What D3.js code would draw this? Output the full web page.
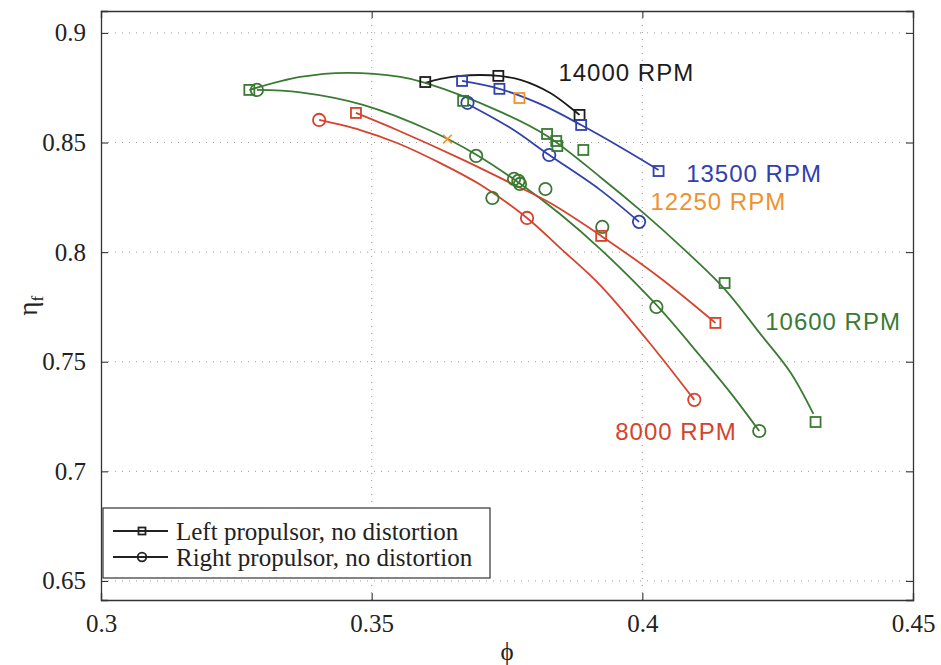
<!DOCTYPE html>
<html>
<head>
<meta charset="utf-8">
<script src="https://cdn.jsdelivr.net/npm/d3@7"></script>
<style>
    body { margin: 0; background: #fff; }
    #chart { width: 941px; height: 665px; }
</style>
</head>
<body>
<div id="chart"></div>
<script>

// axis ticks
const phiTicks = [0.3, 0.35, 0.4, 0.45];
const etaTicks = [0.65, 0.7, 0.75, 0.8, 0.85, 0.9];

// measured points, [phi, eta_f]
const left14000 = [[0.3599, 0.8776], [0.3734, 0.8804], [0.3884, 0.8626]];
const left13500 = [[0.3667, 0.8781], [0.3736, 0.8745], [0.3887, 0.8580], [0.4030, 0.8370]];
const right13500 = [[0.3677, 0.8681], [0.3828, 0.8443], [0.3994, 0.8138]];
const left12250 = [[0.3773, 0.8703]];
const cross12250 = [[0.3640, 0.8516]];
const left10600 = [[0.3274, 0.8740], [0.3669, 0.8690], [0.3824, 0.8539], [0.3841, 0.8507],
    [0.3843, 0.8484], [0.3891, 0.8466], [0.4152, 0.7859], [0.4320, 0.7225]];
const right10600 = [[0.3288, 0.8740], [0.3693, 0.8439], [0.3723, 0.8247], [0.3763, 0.8334],
    [0.3771, 0.8325], [0.3774, 0.8311], [0.3821, 0.8288], [0.3926, 0.8115],
    [0.4026, 0.7750], [0.4216, 0.7184]];
const left8000 = [[0.3471, 0.8635], [0.3924, 0.8074], [0.4135, 0.7677]];
const right8000 = [[0.3403, 0.8603], [0.3787, 0.8156], [0.4096, 0.7326]];

// fitted curves
const fitLeft14000 = [[0.3599, 0.8772], [0.3627, 0.8790], [0.3664, 0.8804], [0.3701, 0.8808],
    [0.3734, 0.8804], [0.3775, 0.8786], [0.3830, 0.8726], [0.3884, 0.8626]];
const fitLeft13500 = [[0.3667, 0.8781], [0.3736, 0.8745], [0.3811, 0.8676], [0.3887, 0.8580],
    [0.3959, 0.8480], [0.4030, 0.8375]];
const fitRight13500 = [[0.3677, 0.8676], [0.3756, 0.8567], [0.3828, 0.8443], [0.3922, 0.8284],
    [0.3994, 0.8138]];
const fitLeft10600 = [[0.3274, 0.8740], [0.3368, 0.8799], [0.3455, 0.8818], [0.3553, 0.8799],
    [0.3599, 0.8772], [0.3738, 0.8640], [0.3824, 0.8530], [0.3922, 0.8343], [0.4002, 0.8179],
    [0.4076, 0.8015], [0.4150, 0.7837], [0.4218, 0.7627], [0.4274, 0.7450], [0.4316, 0.7262]];
const fitRight10600 = [[0.3288, 0.8740], [0.3368, 0.8729], [0.3484, 0.8672], [0.3608, 0.8555],
    [0.3691, 0.8448], [0.3775, 0.8311], [0.3848, 0.8174], [0.3922, 0.8015], [0.4026, 0.7759],
    [0.4107, 0.7526], [0.4163, 0.7358], [0.4216, 0.7184]];
const fitLeft8000 = [[0.3471, 0.8635], [0.3547, 0.8557], [0.3669, 0.8421], [0.3756, 0.8316],
    [0.3830, 0.8224], [0.3924, 0.8074], [0.4033, 0.7882], [0.4135, 0.7677]];
const fitRight8000 = [[0.3403, 0.8603], [0.3479, 0.8557], [0.3547, 0.8498], [0.3627, 0.8406],
    [0.3701, 0.8307], [0.3787, 0.8156], [0.3848, 0.8019], [0.3922, 0.7850], [0.4009, 0.7599],
    [0.4096, 0.7326]];

// speed labels and where they sit
const rpmNames = ["14000 RPM", "13500 RPM", "12250 RPM", "10600 RPM", "8000 RPM"];
const rpmLabelPos = [[0.3845, 0.8781], [0.4081, 0.8320], [0.4015, 0.8190], [0.4227, 0.7645], [0.3950, 0.7143]];
const rpmColors = ["#1c1c1c", "#3041ad", "#f0912f", "#3b7a33", "#d5432d"];

const legendNames = ["Left propulsor, no distortion", "Right propulsor, no distortion"];

class EfficiencyVis {

    constructor(parentElement) {
        this.parentElement = parentElement;
        this.initVis();
    }

    initVis() {
        let vis = this;

        vis.margin = {top: 11, right: 28, bottom: 65, left: 101};
        vis.width = 941 - vis.margin.left - vis.margin.right;
        vis.height = 665 - vis.margin.top - vis.margin.bottom;

        vis.svg = d3.select("#" + vis.parentElement)
            .append("svg")
            .attr("width", 941)
            .attr("height", 665)
            .append("g")
            .attr("transform", "translate(" + vis.margin.left + "," + vis.margin.top + ")");

        vis.x = d3.scaleLinear().domain([0.3, 0.45]).range([0, vis.width]);
        vis.y = d3.scaleLinear().domain([0.6413, 0.91]).range([vis.height, 0]);

        vis.series = [
            {fit: fitLeft14000, pts: left14000, marker: "square", color: rpmColors[0]},
            {fit: fitLeft13500, pts: left13500, marker: "square", color: rpmColors[1]},
            {fit: fitRight13500, pts: right13500, marker: "circle", color: rpmColors[1]},
            {fit: null, pts: left12250, marker: "square", color: rpmColors[2]},
            {fit: null, pts: cross12250, marker: "cross", color: rpmColors[2]},
            {fit: fitLeft10600, pts: left10600, marker: "square", color: rpmColors[3]},
            {fit: fitRight10600, pts: right10600, marker: "circle", color: rpmColors[3]},
            {fit: fitLeft8000, pts: left8000, marker: "square", color: rpmColors[4]},
            {fit: fitRight8000, pts: right8000, marker: "circle", color: rpmColors[4]}
        ];

        vis.drawGrid();
        vis.drawSeries();
        vis.drawAxes();
        vis.drawLegend();
    }

    drawGrid() {
        let vis = this;

        vis.svg.selectAll(".vgrid")
            .data(phiTicks.slice(1, -1))
            .enter().append("line")
            .attr("class", "vgrid")
            .attr("x1", d => vis.x(d)).attr("x2", d => vis.x(d))
            .attr("y1", 0).attr("y2", vis.height)
            .attr("stroke", "#9a9a9a").attr("stroke-width", 1)
            .attr("stroke-dasharray", "1,6");

        vis.svg.selectAll(".hgrid")
            .data(etaTicks)
            .enter().append("line")
            .attr("class", "hgrid")
            .attr("x1", 0).attr("x2", vis.width)
            .attr("y1", d => vis.y(d)).attr("y2", d => vis.y(d))
            .attr("stroke", "#9a9a9a").attr("stroke-width", 1)
            .attr("stroke-dasharray", "1,6");
    }

    drawMarker(g, type, color, size) {
        if (type === "square") {
            g.append("rect")
                .attr("x", -size / 2).attr("y", -size / 2)
                .attr("width", size).attr("height", size)
                .attr("fill", "none").attr("stroke", color).attr("stroke-width", 1.8);
        } else if (type === "circle") {
            g.append("circle")
                .attr("r", size * 0.62)
                .attr("fill", "none").attr("stroke", color).attr("stroke-width", 1.8);
        } else {
            g.append("path")
                .attr("d", d3.symbol().type(d3.symbolX).size(size * 5)())
                .attr("fill", "none").attr("stroke", color).attr("stroke-width", 1.6);
        }
    }

    drawSeries() {
        let vis = this;

        let line = d3.line()
            .x(d => vis.x(d[0]))
            .y(d => vis.y(d[1]))
            .curve(d3.curveCatmullRom.alpha(0.5));

        vis.series.forEach(s => {
            if (s.fit) {
                vis.svg.append("path")
                    .datum(s.fit)
                    .attr("d", line)
                    .attr("fill", "none")
                    .attr("stroke", s.color)
                    .attr("stroke-width", 1.8);
            }
        });

        vis.series.forEach(s => {
            vis.svg.selectAll(null)
                .data(s.pts)
                .enter().append("g")
                .attr("transform", d => "translate(" + vis.x(d[0]) + "," + vis.y(d[1]) + ")")
                .each(function() { vis.drawMarker(d3.select(this), s.marker, s.color, 10); });
        });

        vis.svg.selectAll(".rpm-label")
            .data(rpmNames)
            .enter().append("text")
            .attr("class", "rpm-label")
            .attr("x", (d, i) => vis.x(rpmLabelPos[i][0]))
            .attr("y", (d, i) => vis.y(rpmLabelPos[i][1]))
            .attr("fill", (d, i) => rpmColors[i])
            .style("font-family", "'Liberation Sans', Arial, sans-serif")
            .style("font-size", "24px")
            .style("letter-spacing", "1px")
            .text(d => d);
    }

    drawAxes() {
        let vis = this;
        let tickFont = "'Liberation Serif', 'Times New Roman', serif";

        let xBottom = d3.axisBottom(vis.x).tickValues(phiTicks).tickSize(-7).tickPadding(14)
            .tickFormat(d3.format("~g"));
        let xTop = d3.axisTop(vis.x).tickValues(phiTicks).tickSize(-7).tickFormat("");
        let yLeft = d3.axisLeft(vis.y).tickValues(etaTicks).tickSize(-7).tickPadding(15)
            .tickFormat(d3.format("~g"));
        let yRight = d3.axisRight(vis.y).tickValues(etaTicks).tickSize(-7).tickFormat("");

        let gx = vis.svg.append("g").attr("transform", "translate(0," + vis.height + ")").call(xBottom);
        vis.svg.append("g").call(xTop);
        let gy = vis.svg.append("g").call(yLeft);
        vis.svg.append("g").attr("transform", "translate(" + vis.width + ",0)").call(yRight);

        vis.svg.selectAll(".domain").attr("stroke", "#333").attr("stroke-width", 1.3);
        vis.svg.selectAll(".tick line").attr("stroke", "#333").attr("stroke-width", 1.1);

        [gx, gy].forEach(g => g.selectAll("text")
            .attr("fill", "#222")
            .style("font-family", tickFont)
            .style("font-size", "25px"));

        vis.svg.append("text")
            .attr("x", vis.x(0.375))
            .attr("y", vis.height + 60)
            .attr("text-anchor", "middle")
            .style("font-family", tickFont)
            .style("font-size", "25px")
            .attr("fill", "#222")
            .text("ϕ");

        let yl = vis.svg.append("text")
            .attr("transform", "translate(-64," + vis.y(0.7755) + ") rotate(-90)")
            .attr("text-anchor", "middle")
            .style("font-family", tickFont)
            .style("font-size", "27px")
            .attr("fill", "#222");
        yl.append("tspan").text("η");
        yl.append("tspan").attr("dy", 6).style("font-size", "17px").text("f");
    }

    drawLegend() {
        let vis = this;
        let tickFont = "'Liberation Serif', 'Times New Roman', serif";

        let lg = vis.svg.append("g").attr("transform", "translate(2," + (vis.height - 92) + ")");

        lg.append("rect")
            .attr("width", 387).attr("height", 70)
            .attr("fill", "#fff").attr("stroke", "#333").attr("stroke-width", 1.2);

        let entries = lg.selectAll(".legend-entry")
            .data(legendNames)
            .enter().append("g")
            .attr("class", "legend-entry")
            .attr("transform", (d, i) => "translate(0," + (23 + i * 26) + ")");

        entries.append("line")
            .attr("x1", 10).attr("x2", 65)
            .attr("stroke", "#222").attr("stroke-width", 1.8);

        entries.each(function(d, i) {
            let m = d3.select(this).append("g").attr("transform", "translate(39,0)");
            vis.drawMarker(m, i === 0 ? "square" : "circle", "#222", 7);
        });

        entries.append("text")
            .attr("x", 73).attr("y", 9)
            .attr("fill", "#222")
            .style("font-family", tickFont)
            .style("font-size", "25px")
            .text(d => d);
    }
}

new EfficiencyVis("chart");
</script>
</body>
</html>
